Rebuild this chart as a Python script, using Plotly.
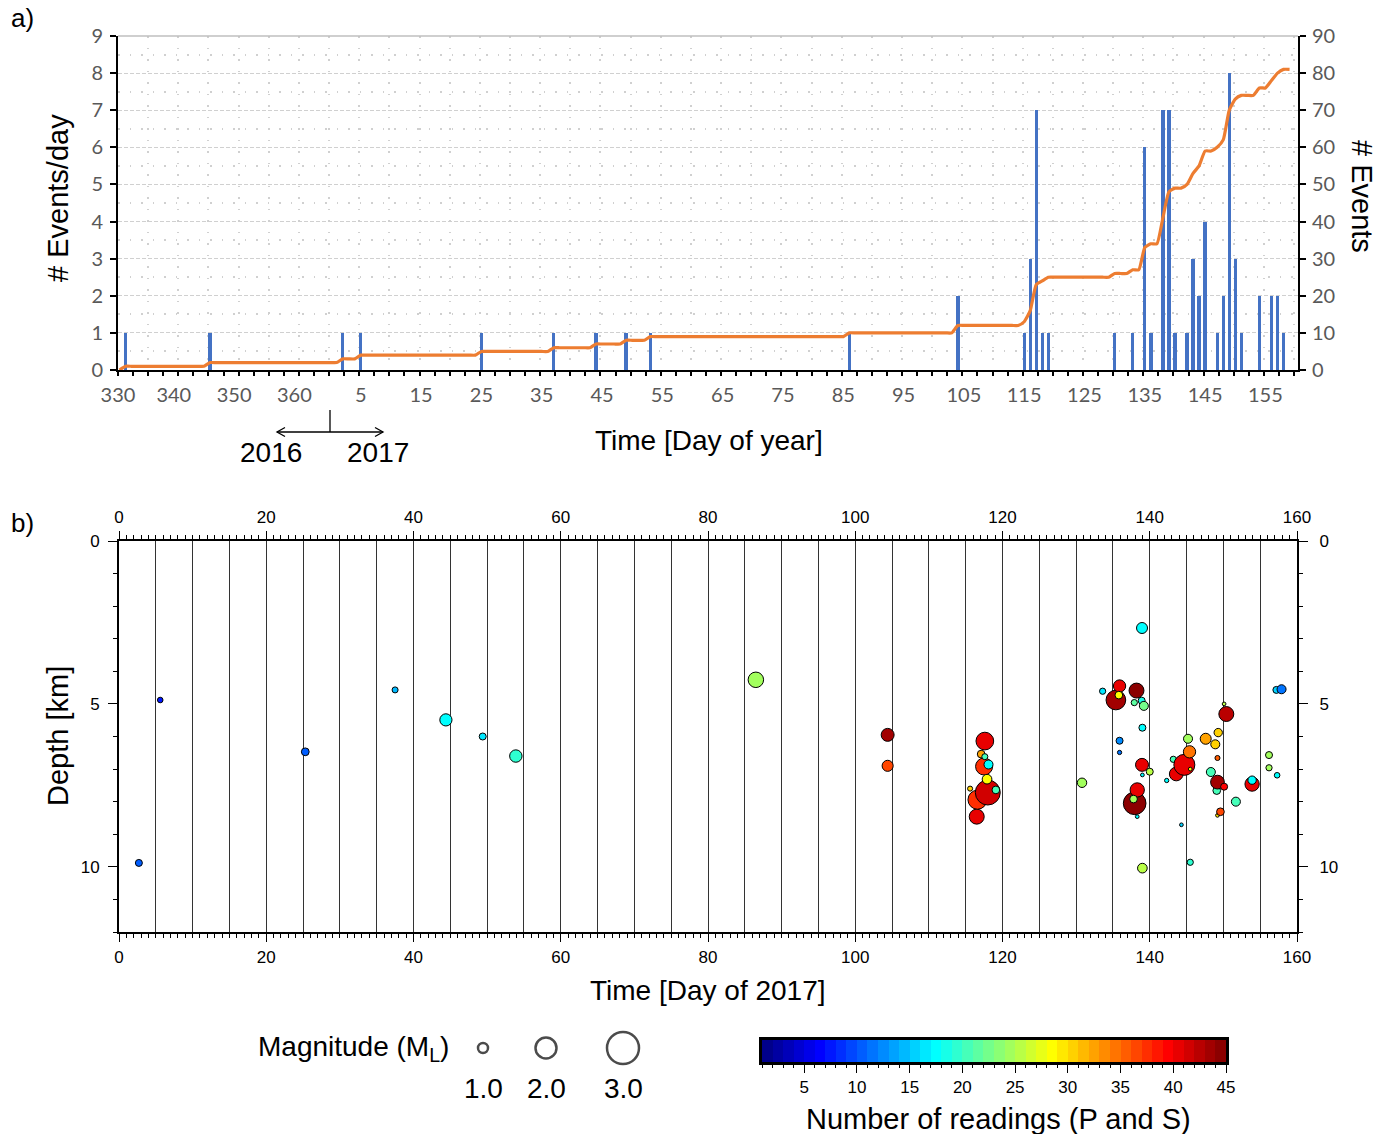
import plotly.graph_objects as go

W, H = 1392, 1134

# ---------------- panel a: number of events per day ----------------
days_2016 = [332, 346]
counts_2016 = [1, 1]
days_2017 = [2, 5, 25, 37, 44, 49, 53, 86, 104,
             115, 116, 117, 118, 119,
             130, 133, 135, 136, 138, 139, 140,
             142, 143, 144, 145, 147, 148, 149, 150, 151,
             154, 156, 157, 158]
counts_2017 = [1, 1, 1, 1, 1, 1, 1, 1, 2,
               1, 3, 7, 1, 1,
               1, 1, 6, 1, 7, 7, 1,
               1, 3, 2, 4, 1, 2, 8, 3, 1,
               2, 2, 2, 1]
series_start_2016 = 331      # first day of the cumulative curve (2016)
series_end_2017 = 159        # last day of the cumulative curve (2017)
days_in_2016 = 366
origin_2016 = 330            # day that sits at the origin of the time axis

tick_days_2016 = [330, 340, 350, 360]
tick_days_2017 = [5, 15, 25, 35, 45, 55, 65, 75, 85, 95, 105, 115, 125, 135, 145, 155]

# ---------------- panel b: hypocentres ----------------
ev_day = [2.7, 5.6, 25.3, 37.5, 44.4, 49.4, 53.9, 86.5, 104.4, 104.4,
          115.6, 116.5, 116.6, 118.0, 117.5, 117.6, 117.1, 117.6, 118.1, 117.9, 119.1,
          130.8,
          133.6, 135.4, 135.9, 135.8, 138.2, 137.9, 138.9, 139.2, 139.0, 138.95,
          135.9, 135.9, 138.95, 140.0, 139.0,
          137.95, 138.3, 137.8, 138.3, 139.0, 142.3, 144.3, 145.5,
          143.2, 143.6, 144.7, 145.5, 145.4, 145.2, 147.6, 148.9, 149.3, 149.2, 150.1, 150.4,
          148.3, 149.1, 149.2, 150.1, 149.2, 149.6, 151.7, 153.9, 153.9,
          156.2, 156.2, 157.3, 157.2, 157.9]
ev_depth = [9.88, 4.88, 6.47, 4.57, 5.49, 6.0, 6.6, 4.26, 5.95, 6.9,
            7.6, 8.46, 7.94, 7.72, 6.92, 6.14, 6.54, 6.62, 6.86, 7.31, 7.64,
            7.42,
            4.61, 4.88, 4.45, 4.73, 4.59, 4.96, 4.9, 5.06, 5.73, 2.67,
            6.13, 6.49, 6.87, 7.08, 7.18,
            8.05, 7.64, 7.92, 8.46, 10.04, 7.35, 8.71, 9.86,
            6.7, 7.15, 6.87, 7.0, 6.47, 6.07, 6.07, 6.24, 5.88, 6.66, 5.0, 5.31,
            7.09, 7.66, 7.4, 7.54, 8.42, 8.31, 8.0, 7.46, 7.34,
            6.57, 6.96, 7.19, 4.57, 4.55]
ev_mag = [0.73, 0.6, 0.8, 0.64, 1.2, 0.73, 1.22, 1.5, 1.27, 1.1,
          0.55, 1.45, 1.82, 2.36, 1.64, 1.7, 0.79, 0.64, 0.91, 0.97, 0.79,
          0.95,
          0.66, 1.88, 1.21, 0.79, 1.45, 0.66, 0.73, 0.91, 0.73, 1.09,
          0.73, 0.48, 1.27, 0.73, 0.43,
          2.15, 1.39, 0.79, 0.43, 0.97, 0.48, 0.43, 0.66,
          0.66, 1.34, 2.0, 0.43, 1.21, 0.91, 1.09, 0.91, 0.85, 0.55, 0.43, 1.45,
          0.91, 0.79, 1.34, 0.73, 0.43, 0.79, 0.91, 1.39, 0.85,
          0.73, 0.66, 0.6, 0.73, 0.91]
ev_nread = [10, 7, 10, 14, 17, 16, 19, 24, 43, 36,
            30, 40, 37, 41, 37, 40, 32, 20, 17, 28.5, 20,
            24,
            16, 43, 40, 28.5, 44, 21, 18, 22.5, 17, 17,
            12, 11, 40, 25, 17,
            44.6, 40, 24, 17, 26, 17, 15, 19,
            20, 40, 40, 28, 34, 24, 32, 30, 30, 35, 26, 42.5,
            20, 20, 43, 39, 29, 36, 20.5, 40, 17,
            24, 24, 17, 15, 11]

legend_mags = [1.0, 2.0, 3.0]
legend_labels = ["1.0", "2.0", "3.0"]
nread_min, nread_max = 1, 45


def day_index(year, doy):
    """Position on the panel-a time axis (days counted from the axis origin)."""
    if year == 2016:
        return doy - origin_2016
    return (days_in_2016 - origin_2016) + doy


def mag_size(m):
    return 11.0 * m - 1.0


def jet(t):
    r = min(max(1.5 - abs(4 * t - 3), 0), 1)
    g = min(max(1.5 - abs(4 * t - 2), 0), 1)
    b = min(max(1.5 - abs(4 * t - 1), 0), 1)
    return f"rgb({round(255 * r)},{round(255 * g)},{round(255 * b)})"


# stepped jet palette, one band per reading count
n_bands = nread_max - nread_min
palette = []
for i in range(n_bands):
    c = jet((i + 0.5) / n_bands)
    palette.append([i / n_bands, c])
    palette.append([(i + 1) / n_bands, c])


def px(x):
    return x / W


def py(y):
    return 1 - y / H


# ---------- panel a derived series ----------
bar_x = [day_index(2016, d) for d in days_2016] + [day_index(2017, d) for d in days_2017]
bar_y = counts_2016 + counts_2017
per_day = dict(zip(bar_x, bar_y))
line_x = list(range(day_index(2016, series_start_2016), day_index(2017, series_end_2017) + 1))
line_y = []
running = 0
for i in line_x:
    running += per_day.get(i, 0)
    line_y.append(running)

XA_RANGE = [0.75, 196.4]
tick_vals_a = [max(day_index(2016, d), XA_RANGE[0]) for d in tick_days_2016] + \
              [day_index(2017, d) for d in tick_days_2017]
tick_text_a = [str(d) for d in tick_days_2016] + [str(d) for d in tick_days_2017]

GRAY = "#595959"
GRID = "#D0D0D0"
fig = go.Figure()

# ---------- panel a traces ----------
fig.add_trace(go.Bar(x=bar_x, y=bar_y, width=0.55, marker=dict(color="#4472C4", line=dict(width=0)),
                     xaxis="x", yaxis="y", showlegend=False, hoverinfo="skip"))
fig.add_trace(go.Scatter(x=[XA_RANGE[0]], y=[0], mode="markers", marker=dict(opacity=0),
                         xaxis="x2", yaxis="y", showlegend=False, hoverinfo="skip"))
fig.add_trace(go.Scatter(x=line_x, y=line_y, mode="lines",
                         line=dict(color="#ED7D31", width=3.2, shape="spline", smoothing=0.5),
                         xaxis="x", yaxis="y2", showlegend=False, hoverinfo="skip"))

# ---------- panel b traces ----------
fig.add_trace(go.Scatter(x=[0], y=[0], mode="markers", marker=dict(opacity=0),
                         xaxis="x5", yaxis="y3", showlegend=False, hoverinfo="skip"))
fig.add_trace(go.Scatter(x=[0], y=[0], mode="markers", marker=dict(opacity=0),
                         xaxis="x4", yaxis="y3", showlegend=False, hoverinfo="skip"))
fig.add_trace(go.Scatter(x=[0], y=[0], mode="markers", marker=dict(opacity=0),
                         xaxis="x3", yaxis="y4", showlegend=False, hoverinfo="skip"))
fig.add_trace(go.Scatter(
    x=ev_day, y=ev_depth, mode="markers",
    marker=dict(size=[mag_size(m) for m in ev_mag], color=ev_nread, colorscale=palette,
                cmin=nread_min, cmax=nread_max, line=dict(color="black", width=1), opacity=1),
    xaxis="x3", yaxis="y3", showlegend=False, hoverinfo="skip"))

# ---------- colour bar ----------
band_centres = [nread_min + 0.5 + i for i in range(n_bands)]
fig.add_trace(go.Heatmap(x=band_centres, y=[0.5], z=[band_centres], colorscale=palette,
                         zmin=nread_min, zmax=nread_max, showscale=False,
                         xaxis="x6", yaxis="y6", hoverinfo="skip"))

# ---------- magnitude key ----------
legend_x_px = [483, 546, 623]
legend_y_px = 1048
fig.add_trace(go.Scatter(
    x=legend_x_px, y=[legend_y_px] * len(legend_mags), mode="markers",
    marker=dict(size=[mag_size(m) for m in legend_mags], color="rgba(0,0,0,0)",
                line=dict(color="black", width=2.5)),
    xaxis="x7", yaxis="y7", showlegend=False, hoverinfo="skip"))

tickfont_a = dict(family="Lato, Liberation Sans, sans-serif", size=20, color=GRAY)
tickfont_b = dict(family="Liberation Sans, Arial, sans-serif", size=17, color="black")

fig.update_layout(
    width=W, height=H, margin=dict(l=0, r=0, t=0, b=0, autoexpand=False),
    paper_bgcolor="white", plot_bgcolor="rgba(0,0,0,0)",
    font=dict(family="Liberation Sans, Arial, sans-serif", color="black"),
    showlegend=False, bargap=0,
    # panel a
    xaxis=dict(domain=[px(118), px(1298)], range=XA_RANGE, anchor="y",
               tickmode="array", tickvals=tick_vals_a, ticktext=tick_text_a, ticks="",
               ticklabelstandoff=6, tickfont=tickfont_a,
               showline=True, linecolor="black", linewidth=2, showgrid=False, zeroline=False),
    xaxis2=dict(overlaying="x", anchor="y", side="bottom", range=XA_RANGE,
                tickmode="linear", tick0=XA_RANGE[0], dtick=5, ticks="outside", ticklen=5,
                tickwidth=1.5, tickcolor="black", showticklabels=False,
                showgrid=True, gridcolor=GRID, gridwidth=1.5, griddash="1.5px,10px",
                minor=dict(tick0=XA_RANGE[0], dtick=2.5, ticks="outside", ticklen=5,
                           tickwidth=1.5, tickcolor="black", showgrid=False),
                showline=False, zeroline=False),
    yaxis=dict(domain=[py(370), py(36)], range=[0, 9], anchor="x",
               tickmode="linear", tick0=0, dtick=1, ticks="outside", ticklen=6, tickwidth=1.5,
               tickcolor="black", tickfont=tickfont_a, ticklabelstandoff=3,
               showline=True, linecolor="black", linewidth=2,
               showgrid=True, gridcolor=GRID, gridwidth=1, griddash="4px,2px",
               minor=dict(dtick=0.5, showgrid=True, gridcolor=GRID, gridwidth=1.5,
                          griddash="1.5px,10px"),
               zeroline=False),
    yaxis2=dict(overlaying="y", side="right", anchor="x", range=[0, 90],
                tickmode="linear", tick0=0, dtick=10, ticks="outside", ticklen=6, tickwidth=1.5,
                tickcolor="black", tickfont=tickfont_a, ticklabelstandoff=2,
                showline=True, linecolor="black", linewidth=2, showgrid=False, zeroline=False),
    # panel b
    xaxis3=dict(domain=[px(119), px(1297)], range=[0, 160], anchor="y3",
                tickmode="linear", tick0=0, dtick=20, ticks="outside", ticklen=8, tickwidth=1,
                tickcolor="black", tickfont=tickfont_b, ticklabelstandoff=1,
                minor=dict(tick0=0, dtick=1, ticks="outside", ticklen=4, tickwidth=1,
                           tickcolor="black"),
                showline=True, linecolor="black", linewidth=2, showgrid=False, zeroline=False),
    xaxis4=dict(overlaying="x3", anchor="y3", side="top", range=[0, 160],
                tickmode="linear", tick0=0, dtick=20, ticks="outside", ticklen=8, tickwidth=1,
                tickcolor="black", tickfont=tickfont_b, ticklabelstandoff=1,
                minor=dict(tick0=0, dtick=1, ticks="outside", ticklen=4, tickwidth=1,
                           tickcolor="black"),
                showline=True, linecolor="black", linewidth=2, showgrid=False, zeroline=False),
    xaxis5=dict(overlaying="x3", anchor="y3", range=[0, 160],
                tickmode="linear", tick0=0, dtick=5, ticks="", showticklabels=False,
                showgrid=True, gridcolor="#333333", gridwidth=1, showline=False, zeroline=False),
    yaxis3=dict(domain=[py(932), py(541)], range=[12, 0], anchor="x3",
                tickmode="linear", tick0=0, dtick=5, ticks="outside", ticklen=9, tickwidth=1,
                tickcolor="black", tickfont=tickfont_b, ticklabelstandoff=5,
                minor=dict(tick0=0, dtick=1, ticks="outside", ticklen=4, tickwidth=1,
                           tickcolor="black"),
                showline=True, linecolor="black", linewidth=2, showgrid=False, zeroline=False),
    yaxis4=dict(overlaying="y3", anchor="x3", side="right", range=[12, 0],
                tickmode="linear", tick0=0, dtick=5, ticks="outside", ticklen=9, tickwidth=1,
                tickcolor="black", tickfont=tickfont_b, ticklabelstandoff=8,
                minor=dict(tick0=0, dtick=1, ticks="outside", ticklen=4, tickwidth=1,
                           tickcolor="black"),
                showline=True, linecolor="black", linewidth=2, showgrid=False, zeroline=False),
    # colour bar
    xaxis6=dict(domain=[px(762), px(1226)], range=[nread_min, nread_max], anchor="y6",
                tickmode="linear", tick0=0, dtick=5, ticks="outside", ticklen=8, tickwidth=1,
                tickcolor="black", ticklabelstandoff=0,
                tickfont=dict(family="Liberation Sans Narrow, Liberation Sans, sans-serif",
                              size=17, color="black"),
                minor=dict(tick0=0, dtick=1, ticks="outside", ticklen=3, tickwidth=1,
                           tickcolor="black"),
                showline=True, mirror=True, linecolor="black", linewidth=3,
                showgrid=False, zeroline=False),
    yaxis6=dict(domain=[py(1062), py(1040)], range=[0, 1], anchor="x6",
                showticklabels=False, ticks="", showline=True, mirror=True,
                linecolor="black", linewidth=3, showgrid=False, zeroline=False),
    # page-sized pixel frame for the magnitude key and the year marker
    xaxis7=dict(domain=[0, 1], range=[0, W], anchor="y7", visible=False),
    yaxis7=dict(domain=[0, 1], range=[H, 0], anchor="x7", visible=False),
)
# every axis keeps the exact domain it was given
fig.update_xaxes(automargin=False)
fig.update_yaxes(automargin=False)

# year boundary marker under panel a
arrow = dict(color="black", width=1.3)
fig.add_shape(type="line", xref="x7", yref="y7", x0=330, x1=330, y0=410, y1=432, line=arrow)
fig.add_shape(type="line", xref="x7", yref="y7", x0=277, x1=383, y0=432, y1=432, line=arrow)
fig.add_shape(type="path", xref="x7", yref="y7", path="M 285 427.5 L 277 432 L 285 436.5", line=arrow)
fig.add_shape(type="path", xref="x7", yref="y7", path="M 375 427.5 L 383 432 L 375 436.5", line=arrow)
# top edge of panel a
fig.add_shape(type="line", xref="paper", yref="paper", x0=px(118), x1=px(1298), y0=py(36), y1=py(36),
              line=dict(color="#BFBFBF", width=1.5))


def label(text, x, y, size, angle=0, family="Liberation Sans, Arial, sans-serif"):
    fig.add_annotation(text=text, x=px(x), y=py(y), xref="paper", yref="paper",
                       xanchor="center", yanchor="middle", showarrow=False, textangle=angle,
                       font=dict(family=family, size=size, color="black"))


label("a)", 22, 18, 26)
label("b)", 22, 523, 26)
label("# Events/day", 58, 198, 29, -90)
label("# Events", 1362, 196, 29, 90)
label("Time [Day of year]", 709, 440, 28)
label("2016", 271, 452, 28)
label("2017", 378, 452, 28)
label("Depth [km]", 58, 736, 29, -90)
label("Time [Day of 2017]", 708, 990, 28)
label("Magnitude (M<sub>L</sub>)", 353, 1048, 28,
      family="Liberation Sans Narrow, Liberation Sans, sans-serif")
for xl, t in zip(legend_x_px, legend_labels):
    label(t, xl, 1088, 28, family="Liberation Sans Narrow, Liberation Sans, sans-serif")
label("Number of readings (P and S)", 998, 1119, 29,
      family="Liberation Sans Narrow, Liberation Sans, sans-serif")

fig.write_html("out.html")
